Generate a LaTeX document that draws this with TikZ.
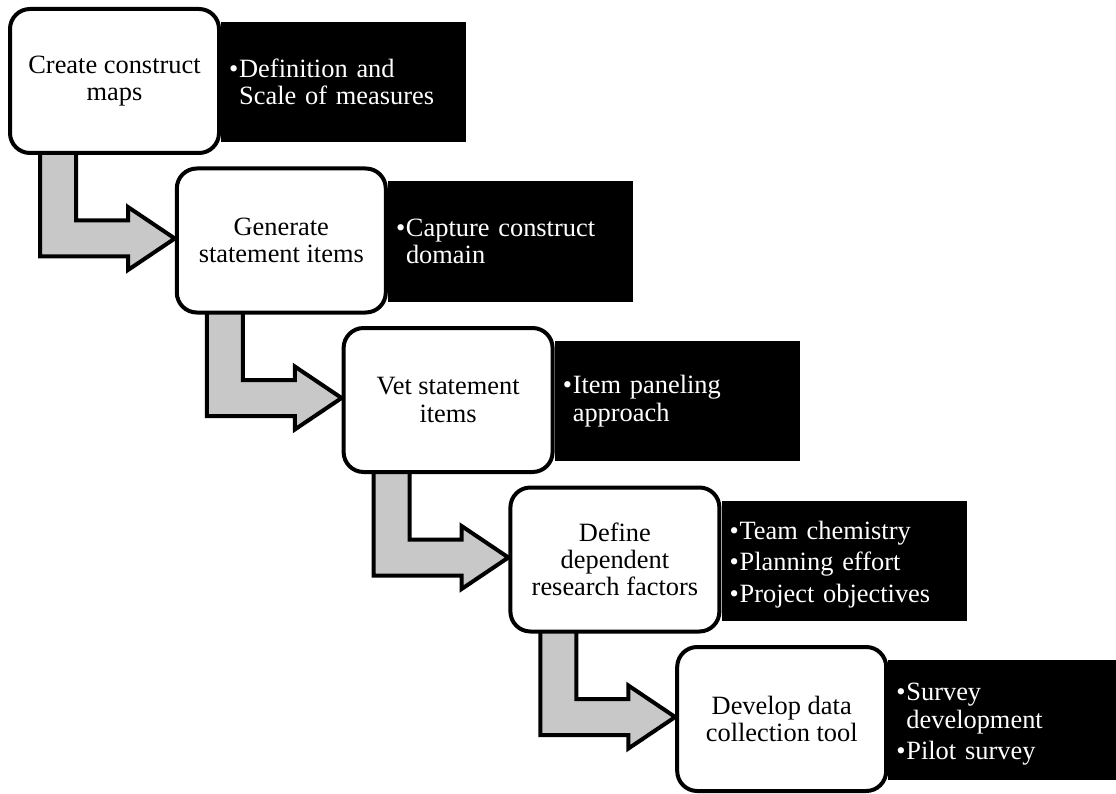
\documentclass[tikz,border=0pt]{standalone}
\usepackage{fontspec}
\setmainfont{Liberation Serif}
\usetikzlibrary{calc}
\pgfdeclarelayer{back}
\pgfsetlayers{back,main}

\definecolor{arrowgray}{RGB}{200,200,200}

% bullet item and continuation line for the note boxes
\newcommand\itm[1]{\makebox[10pt][l]{\textbullet}#1}
\newcommand\cont[1]{\hspace*{10pt}#1}
% taller first line, lowers a three-line list a little
\newcommand\topstrut{\rule{0pt}{26pt}}

% bent block arrow from the bottom of one step to the left side of the next
\newcommand\stepflow[2]{%
  \draw[flowarrow] let \p1=(#1.south west), \p2=(#2.west) in
    (\x1+32pt,\y1+10pt) -- (\x1+32pt,\y2-16pt) -- (\x1+120pt,\y2-16pt)
    -- (\x1+120pt,\y2-29.5pt) -- (\x2,\y2+2pt) -- (\x1+120pt,\y2+33.5pt)
    -- (\x1+120pt,\y2+20pt) -- (\x1+68pt,\y2+20pt) -- (\x1+68pt,\y1+10pt) -- cycle;}

\tikzset{
  txt/.style={font=\fontsize{26.4}{27.3}\selectfont},
  stepbox/.style={txt, draw=black, line width=4pt, fill=white, rounded corners=20pt,
    minimum width=209pt, minimum height=144pt, inner sep=0pt, align=center},
  notebox/.style={txt, fill=black, text=white, anchor=west, yshift=-1pt,
    minimum height=120pt, text width=229pt, inner xsep=8pt, inner ysep=0pt, align=left},
  flowarrow/.style={draw=black, line width=4pt, fill=arrowgray, line join=miter},
}

\begin{document}
\begin{tikzpicture}[x=1pt,y=-1pt]
\useasboundingbox (0,0) rectangle (1116,794);

% process steps
\node[stepbox] (s1) at (114.5,81)  {Create construct\\maps};
\node[stepbox] (s2) at (281.3,240.5) {Generate\\statement items};
\node[stepbox] (s3) at (448.1,400) {Vet statement\\items};
\node[stepbox] (s4) at (614.9,559.5) {Define\\dependent\\research factors};
\node[stepbox] (s5) at (781.7,719) {Develop data\\collection tool};

\begin{pgfonlayer}{back}
  % detail panels behind each step
  \node[notebox] (n1) at (s1.east) {\itm{Definition and}\\\cont{Scale of measures}};
  \node[notebox] (n2) at (s2.east) {\itm{Capture construct}\\\cont{domain}};
  \node[notebox] (n3) at (s3.east) {\itm{Item paneling}\\\cont{approach}};
  \node[notebox] (n4) at (s4.east) {\topstrut\itm{Team chemistry}\\[4.2pt]\itm{Planning effort}\\[4.2pt]\itm{Project objectives}};
  \node[notebox] (n5) at (s5.east) {\topstrut\itm{Survey}\\\cont{development}\\[4.2pt]\itm{Pilot survey}};

  % connectors between steps
  \stepflow{s1}{s2}
  \stepflow{s2}{s3}
  \stepflow{s3}{s4}
  \stepflow{s4}{s5}
\end{pgfonlayer}
\end{tikzpicture}
\end{document}
